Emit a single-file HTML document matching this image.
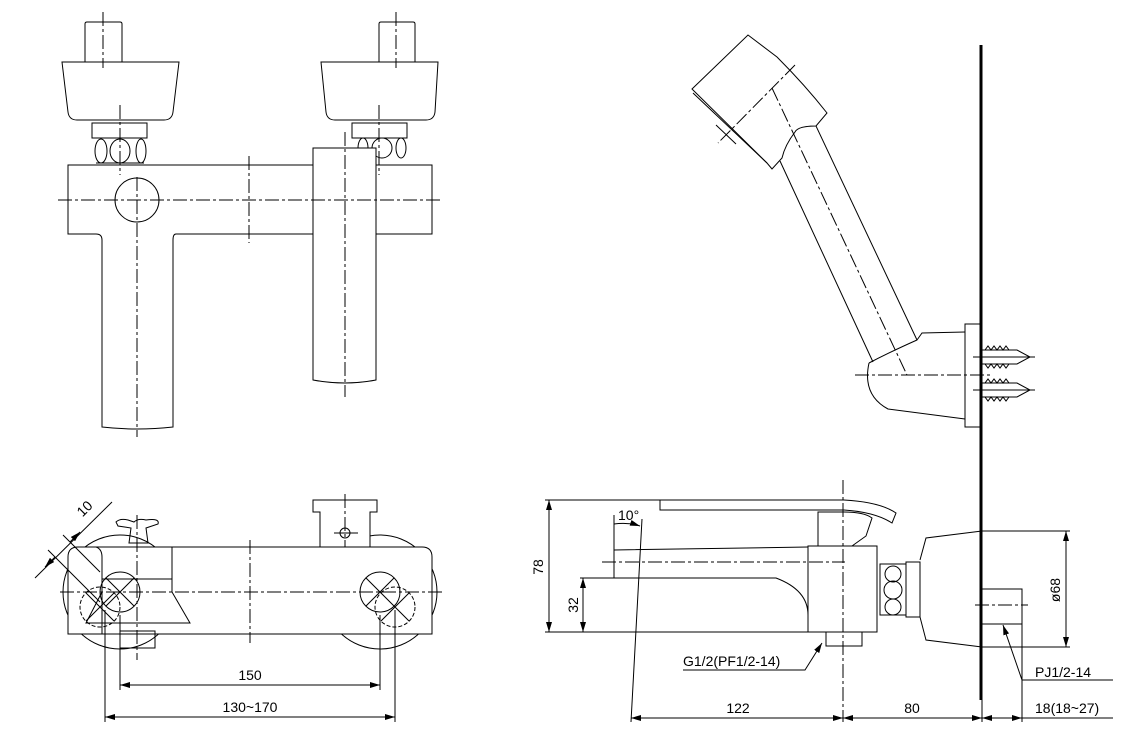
<!DOCTYPE html>
<html><head><meta charset="utf-8"><style>
html,body{margin:0;padding:0;background:#fff}
svg{display:block}
text{font-family:"Liberation Sans",sans-serif;font-size:14px;fill:#000}
</style></head><body>
<svg width="1145" height="742" viewBox="0 0 1145 742" xmlns="http://www.w3.org/2000/svg">
<defs>
<marker id="ar" viewBox="0 0 10 6" refX="10" refY="3" markerWidth="10" markerHeight="6" orient="auto-start-reverse" markerUnits="userSpaceOnUse"><path d="M0,0 L10,3 L0,6z" fill="#000"/></marker>
</defs>
<g fill="none" stroke="#000" stroke-width="1">
<!-- TOP VIEW -->
<path d="M85,62 V24 Q85,22 87,22 H120 Q122,22 122,24 V62"/>
<path d="M62,62 H179 L173,112 Q172,120 164,120 H77 Q69,120 68,112 Z"/>
<rect x="92" y="123" width="55" height="15"/>
<path d="M96,138 h48 M96,163 h48"/>
<ellipse cx="101" cy="151" rx="6" ry="12"/><ellipse cx="120" cy="151" rx="10" ry="12"/><ellipse cx="141" cy="151" rx="5" ry="12"/>
<path d="M379,62 V24 Q379,22 381,22 H413 Q415,22 415,24 V62"/>
<path d="M321,62 H438 L435,112 Q434,120 426,120 H335 Q327,120 326,112 Z"/>
<rect x="352" y="123" width="55" height="15"/>
<ellipse cx="363" cy="148" rx="5" ry="10"/><ellipse cx="382" cy="148" rx="10" ry="10"/><ellipse cx="401" cy="148" rx="5" ry="10"/>
<path d="M68,165 H432 V234 H176 Q173,234 173,240 V427 Q137,431 102,427 V240 Q102,234 96,234 H68 Z" fill="#fff"/>
<circle cx="137" cy="200" r="22"/>
<path d="M313,148 H376 V380 Q345,386 313,380 Z" fill="#fff"/>
<g stroke-dasharray="14 3 3 3">
<path d="M58,200 H442"/><path d="M137,177 V437"/><path d="M249,156 V243"/><path d="M345,132 V397"/>
<path d="M103,12 V68"/><path d="M120,105 V175"/><path d="M396,12 V68"/><path d="M379,105 V175"/>
</g>
<!-- BOTTOM-LEFT VIEW -->
<circle cx="120" cy="592" r="57"/><circle cx="380" cy="592" r="57"/>
<path d="M68,634 V557 Q68,547 78,547 H422 Q432,547 432,557 V634 Z" fill="#fff"/>
<path d="M102,634 V557 Q102,549 96,547"/>
<path d="M102,579 H172 M172,547 Q172,560 172,592 L190,623 H86 L102,592"/>
<circle cx="120" cy="592" r="20"/><circle cx="380" cy="592" r="20"/>
<circle cx="100" cy="607" r="20" stroke-dasharray="4 2"/><circle cx="395" cy="607" r="20" stroke-dasharray="4 2"/>
<path d="M106,578 L134,606 M134,578 L106,606 M86,593 L114,621 M114,593 L86,621"/>
<path d="M366,578 L394,606 M394,578 L366,606 M381,593 L409,621 M409,593 L381,621"/>
<path d="M116,522 Q120,518 128,520 L134,522 Q138,518 146,520 Q160,518 158,524 L146,528 L148,543 H129 L131,528 L118,526 Z"/>
<path d="M313,500 H377 V512 H370 V547 H320 V512 H313 Z" fill="#fff"/>
<circle cx="345" cy="533" r="5"/><path d="M334,533 H358"/>
<rect x="120" y="631" width="35" height="17"/>
<g stroke-dasharray="14 3 3 3"><path d="M60,592 H442"/><path d="M250,540 V643"/><path d="M345,494 V547"/><path d="M137,515 V660"/></g>
<path d="M120,615 V690 M380,615 V690 M105,610 V722 M395,610 V722"/>
<path d="M120,685 H380" marker-start="url(#ar)" marker-end="url(#ar)"/>
<path d="M105,717 H395" marker-start="url(#ar)" marker-end="url(#ar)"/>
<path d="M35,578 L112,502"/>
<path d="M48,550 L100,602 M63,535 L100,572"/>
<path d="M55,557 L45,567" marker-end="url(#ar)"/><path d="M70,542 L80,532" marker-end="url(#ar)"/>
<!-- SIDE VIEW -->
<path d="M660,500 H844 Q880,502 896,513 L892,523 Q875,512 844,510 H660 Z"/>
<path d="M818,546 V512 H844 Q864,512 872,518 L866,536 L852,546"/>
<path d="M614,550 L808,547 M614,550 V578 M580,578 H776 Q808,590 808,615"/>
<rect x="808" y="546" width="69" height="86" fill="#fff"/>
<path d="M545,632 H808"/>
<rect x="826" y="632" width="36" height="14"/>
<rect x="880" y="564" width="26" height="51"/>
<circle cx="893" cy="574" r="8"/><circle cx="893" cy="590" r="9"/><circle cx="893" cy="607" r="8"/>
<rect x="906" y="562" width="14" height="55"/>
<path d="M920,560 L926,538 L982,531 M920,617 L926,640 L982,647"/>
<path d="M982,589 H1022 V624 H982"/>
<path d="M982,531 H1070 M982,647 H1070"/>
<path d="M1066,531 V647" marker-start="url(#ar)" marker-end="url(#ar)"/>
<path d="M545,500 H660"/>
<path d="M549,500 V632" marker-start="url(#ar)" marker-end="url(#ar)"/>
<path d="M583,578 V632" marker-start="url(#ar)" marker-end="url(#ar)"/>
<path d="M614,515 V550 M642,519 L631,722"/>
<path d="M614,524 Q628,522 640,526" marker-end="url(#ar)"/>
<g stroke-dasharray="14 3 3 3"><path d="M602,562 H845"/><path d="M843,480 V722"/><path d="M975,605 H1028"/></g>
<path d="M683,670 H805 L822,643" marker-end="url(#ar)"/>
<path d="M1113,680 H1022 L1003,625" marker-end="url(#ar)"/>
<path d="M1022,624 V722 M982,700 V722"/>
<path d="M631,718 H843" marker-start="url(#ar)" marker-end="url(#ar)"/>
<path d="M843,718 H982" marker-start="url(#ar)" marker-end="url(#ar)"/>
<path d="M982,718 H1022" marker-start="url(#ar)" marker-end="url(#ar)"/>
<path d="M1022,718 H1113"/>
<!-- SHOWER HEAD -->
<path d="M692,89 L748,35 L777,57 Q805,85 827,113 L816,126 Q798,126 795,132 Q785,145 782,158 L772,169 L767,163 Z"/>
<path d="M693,93 L767,163 M716,125 L736,144"/>
<path d="M780,161 L873,362 M816,126 L917,340"/>
<path d="M869,363 Q890,352 917,340 L922,333 L965,332 M869,363 Q862,395 888,409 L965,419"/>
<rect x="965" y="324" width="16" height="103"/>
<g stroke-dasharray="14 3 3 3"><path d="M772,88 L907,375"/><path d="M795,65 L718,143"/><path d="M855,375 H992"/></g>
<path d="M981,350 H1017 L1030,357 L1017,364 H981 M981,383 H1017 L1030,390 L1017,397 H981"/>
<path d="M985,350 l3,-4 l3,4 l3,-4 l3,4 l3,-4 l3,4 l3,-4 l3,4 M985,364 l3,4 l3,-4 l3,4 l3,-4 l3,4 l3,-4 l3,4 l3,-4 M985,383 l3,-4 l3,4 l3,-4 l3,4 l3,-4 l3,4 l3,-4 l3,4 M985,397 l3,4 l3,-4 l3,4 l3,-4 l3,4 l3,-4 l3,4 l3,-4"/>
<path d="M973,357 H1035 M973,390 H1035"/>
</g>
<path d="M981,45 V700" stroke="#000" stroke-width="3"/>
<text x="250" y="680" text-anchor="middle">150</text>
<text x="250" y="712" text-anchor="middle">130~170</text>
<text x="88" y="512" text-anchor="middle" transform="rotate(-45 88 512)">10</text>
<text x="543" y="567" text-anchor="middle" transform="rotate(-90 543 567)">78</text>
<text x="578" y="605" text-anchor="middle" transform="rotate(-90 578 605)">32</text>
<text x="618" y="520" font-size="13">10°</text>
<text x="683" y="666" font-size="13">G1/2(PF1/2-14)</text>
<text x="1035" y="677" font-size="13">PJ1/2-14</text>
<text x="1060" y="590" text-anchor="middle" font-size="13" transform="rotate(-90 1060 590)">ø68</text>
<text x="738" y="713" text-anchor="middle">122</text>
<text x="912" y="713" text-anchor="middle">80</text>
<text x="1035" y="713" font-size="13">18(18~27)</text>
</svg>
</body></html>
